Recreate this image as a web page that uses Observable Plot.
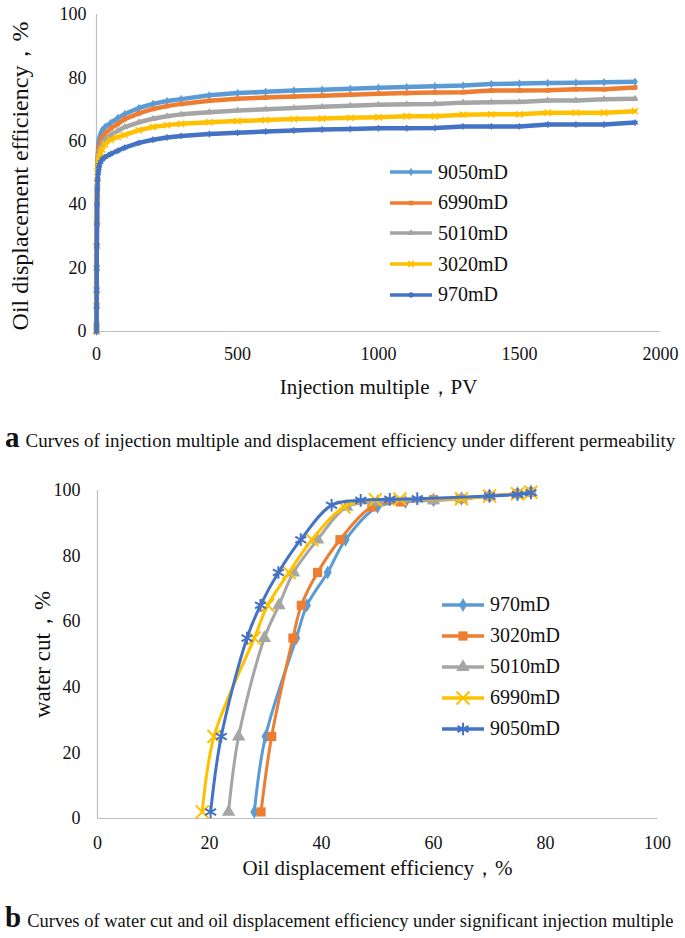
<!DOCTYPE html>
<html><head><meta charset="utf-8">
<script src="https://cdn.jsdelivr.net/npm/d3@7"></script>
<script src="https://cdn.jsdelivr.net/npm/@observablehq/plot@0.6"></script>
<style>
body{margin:0;background:#fff;font-family:"Liberation Serif","Times New Roman",serif;color:#111;}
#page{position:relative;width:685px;height:938px;overflow:hidden;background:#fff;}
.chart{position:absolute;left:0;}
.cap{position:absolute;left:5px;line-height:28px;white-space:nowrap;color:#111;}
.cap b{font-size:29px;margin-right:6px;}
.legend{position:absolute;font-size:20px;color:#111;}
.legend .row{display:flex;align-items:center;}
.legend svg{display:block;margin-right:5px;overflow:visible;}
</style></head>
<body><div id="page"></div>
<script>
// ---------- Chart a: injection multiple vs displacement efficiency ----------
const pvTop = [0,0.2,0.4,0.6,0.8,1,1.5,2,3,4,6,8,10,15,20,30,50,75,100,150,200,250,300,400,500,600,700,800,900,1000,1100,1200,1300,1400,1500,1600,1700,1800,1910];
const effTop9050 = [0,3,9,14,22,30,38,45,51,55,58,60,61,62.5,63.5,64.5,65.8,67.3,68.6,70.5,71.8,72.7,73.3,74.5,75.2,75.6,76,76.3,76.6,76.9,77.1,77.4,77.6,78.1,78.2,78.4,78.5,78.6,78.8];
const effTop6990 = [0,2.5,8.5,13.5,21,29,37,44,50,53.5,56,57.5,58.5,60,61,62.5,64,65.5,67,68.8,70.2,71.1,71.8,72.8,73.4,73.8,74.1,74.4,74.7,75,75.2,75.4,75.5,76,76,76.1,76.4,76.4,77];
const effTop5010 = [0,2.5,8,13,21,28,36,43,48,51.5,54,55.5,56.5,58,59,60.5,62,63.3,64.5,66,67.1,67.9,68.5,69.2,69.7,70.1,70.5,70.9,71.2,71.5,71.7,71.8,72.2,72.3,72.4,72.9,72.9,73.3,73.4];
const effTop3020 = [0,2,8,13,20,27,35,42,47,50.5,52.5,54,55,56.5,57.5,59,60.5,61.3,62,63.5,64.5,65.1,65.5,66,66.4,66.7,67,67.2,67.4,67.6,67.9,67.9,68.4,68.5,68.5,69,69,69,69.5];
const effTop970  = [0,2,8,13,20,27,34,40,45,48,50,51.5,52.5,53.5,54.3,55,56,57,58,59.5,60.5,61.2,61.7,62.3,62.7,63.1,63.4,63.7,63.9,64.1,64.1,64.2,64.7,64.7,64.7,65.3,65.3,65.3,65.9];
const xTicksTop = [0,500,1000,1500,2000];
const yTicksTop = [0,20,40,60,80,100];
const xTitleTop = "Injection multiple，PV";
const yTitleTop = "Oil displacement efficiency，%";
const captionA = "Curves of injection multiple and displacement efficiency under different permeability";

// ---------- Chart b: water cut vs oil displacement efficiency ----------
const effBot970  = [28,30,35.5,37.4,41.1,44.3,50,55,60,65,70,75,77.4];
const wcBot970   = [2,25,55,65,75,85,95,96.5,97,97.5,98.3,99,99.5];
const effBot3020 = [29.2,31.1,34.9,36.4,39.3,43.3,49,54.1,60,64.8,70,75,77.4];
const wcBot3020  = [2,25,55,65,75,85,95,96.5,97.2,97.5,98.3,99,99.5];
const effBot5010 = [23.4,25.2,29.8,32.4,35,39.3,44.5,50,60,65,70,75,77.4];
const wcBot5010  = [2,25,55,65,75,85,95,96.5,97,97.5,98.3,99,99.5];
const effBot6990 = [18.7,20.8,28,30.4,34.2,38.3,44,49.6,54,65,70,75,77.4];
const wcBot6990  = [2,25,55,65,75,85,95,97.2,97.4,97.5,98.3,99,99.5];
const effBot9050 = [20.2,22.1,26.7,29.1,32.3,36.3,41.8,47,52.2,57.1,70,75,77.4];
const wcBot9050  = [2,25,55,65,75,85,95.5,97,97.3,97.5,98.3,98.8,99.3];
const xTicksBot = [0,20,40,60,80,100];
const yTicksBot = [0,20,40,60,80,100];
const xTitleBot = "Oil displacement efficiency，%";
const yTitleBot = "water cut，%";
const captionB = "Curves of water cut and oil displacement efficiency under significant injection multiple";

const C = {lblue:"#5B9BD5", orange:"#ED7D31", gray:"#A5A5A5", gold:"#FFC000", dblue:"#4472C4"};

const seriesTop = [
  {name:"9050mD", color:C.lblue, symbol:"diamond", filled:true, values:effTop9050},
  {name:"6990mD", color:C.orange, symbol:"square", filled:true, values:effTop6990},
  {name:"5010mD", color:C.gray, symbol:"triangle", filled:true, values:effTop5010},
  {name:"3020mD", color:C.gold, symbol:"times", filled:false, values:effTop3020},
  {name:"970mD", color:C.dblue, symbol:"asterisk", filled:false, values:effTop970}
];
const seriesBot = [
  {name:"970mD", color:C.lblue, symbol:"diamond", filled:true, r:4.2, x:effBot970, y:wcBot970},
  {name:"3020mD", color:C.orange, symbol:"square", filled:true, r:5.2, x:effBot3020, y:wcBot3020},
  {name:"5010mD", color:C.gray, symbol:"triangle", filled:true, r:5, x:effBot5010, y:wcBot5010},
  {name:"6990mD", color:C.gold, symbol:"times", filled:false, r:6, x:effBot6990, y:wcBot6990},
  {name:"9050mD", color:C.dblue, symbol:"asterisk", filled:false, r:6, x:effBot9050, y:wcBot9050}
];

const page = document.getElementById("page");
const fontFam = "'Liberation Serif', 'Times New Roman', serif";
const axisCol = "#bfbfbf";

// ---- top plot
const topMarks = [
  Plot.ruleX([0], {stroke: axisCol, strokeWidth: 1.2}),
  Plot.ruleY([0], {stroke: axisCol, strokeWidth: 1.2})
];
seriesTop.forEach(s => {
  const data = s.values.map((v, i) => ({pv: pvTop[i], eff: v}));
  topMarks.push(Plot.line(data, {x: "pv", y: "eff", stroke: s.color, strokeWidth: 4.5}));
  topMarks.push(Plot.dot(data, s.filled
    ? {x: "pv", y: "eff", symbol: s.symbol, fill: s.color, r: 2.6}
    : {x: "pv", y: "eff", symbol: s.symbol, stroke: s.color, strokeWidth: 1.4, r: 3}));
});
topMarks.push(Plot.text([xTitleTop], {text: d => d, frameAnchor: "bottom", dy: 62, fontSize: 21, fill: "#111", fontFamily: fontFam}));
topMarks.push(Plot.text([yTitleTop], {text: d => d, frameAnchor: "left", textAnchor: "middle", dx: -76, dy: 3, rotate: -90, fontSize: 24, fill: "#111", fontFamily: fontFam}));

const topPlot = Plot.plot({
  width: 685, height: 420,
  marginLeft: 96, marginRight: 25, marginTop: 14, marginBottom: 89,
  style: {fontFamily: fontFam, fontSize: "18px", color: "#111", background: "transparent", overflow: "visible"},
  x: {domain: [0, 2000], ticks: xTicksTop, tickSize: 0, tickPadding: 16, label: null, tickFormat: d => String(d)},
  y: {domain: [0, 100], ticks: yTicksTop, tickSize: 0, tickPadding: 10, label: null, tickFormat: d => String(d)},
  marks: topMarks
});
topPlot.classList.add("chart");
topPlot.style.top = "0px";
page.appendChild(topPlot);

// ---- bottom plot
const botMarks = [
  Plot.ruleX([0], {stroke: axisCol, strokeWidth: 1.2}),
  Plot.ruleY([0], {stroke: axisCol, strokeWidth: 1.2})
];
seriesBot.forEach(s => {
  const data = s.x.map((v, i) => ({eff: v, wc: s.y[i]}));
  botMarks.push(Plot.line(data, {x: "eff", y: "wc", stroke: s.color, strokeWidth: 3, curve: "catmull-rom"}));
  botMarks.push(Plot.dot(data, s.filled
    ? {x: "eff", y: "wc", symbol: s.symbol, fill: s.color, r: s.r}
    : {x: "eff", y: "wc", symbol: s.symbol, stroke: s.color, strokeWidth: 2, r: s.r}));
});
botMarks.push(Plot.text([xTitleBot], {text: d => d, frameAnchor: "bottom", dy: 56, fontSize: 21, fill: "#111", fontFamily: fontFam}));
botMarks.push(Plot.text([yTitleBot], {text: d => d, frameAnchor: "left", textAnchor: "middle", dx: -55, rotate: -90, fontSize: 23, fill: "#111", fontFamily: fontFam}));

const botPlot = Plot.plot({
  width: 685, height: 440,
  marginLeft: 97, marginRight: 28, marginTop: 30, marginBottom: 82,
  style: {fontFamily: fontFam, fontSize: "18px", color: "#111", background: "transparent", overflow: "visible"},
  x: {domain: [0, 100], ticks: xTicksBot, tickSize: 0, tickPadding: 18, label: null, tickFormat: d => String(d)},
  y: {domain: [0, 100], ticks: yTicksBot, tickSize: 0, tickPadding: 17, label: null, tickFormat: d => String(d)},
  marks: botMarks
});
botPlot.classList.add("chart");
botPlot.style.top = "460px";
page.appendChild(botPlot);

// ---- legends
const symMap = {diamond: d3.symbolDiamond, square: d3.symbolSquare, triangle: d3.symbolTriangle, times: d3.symbolTimes, asterisk: d3.symbolAsterisk};
function legend(series, left, top, rowH, markR) {
  const div = document.createElement("div");
  div.className = "legend";
  div.style.left = left + "px";
  div.style.top = top + "px";
  series.forEach(s => {
    const row = document.createElement("div");
    row.className = "row";
    row.style.height = rowH + "px";
    const r = markR(s);
    const path = d3.symbol(symMap[s.symbol], Math.PI * r * r)();
    const mk = s.filled
      ? `<path d="${path}" transform="translate(21,6)" fill="${s.color}"/>`
      : `<path d="${path}" transform="translate(21,6)" fill="none" stroke="${s.color}" stroke-width="2"/>`;
    row.innerHTML = `<svg width="43" height="12"><line x1="0" x2="42" y1="6" y2="6" stroke="${s.color}" stroke-width="3.5"/>${mk}</svg><span>${s.name}</span>`;
    div.appendChild(row);
  });
  page.appendChild(div);
}
legend(seriesTop, 390, 157, 30.6, s => 2.6);
legend(seriesBot, 442, 589, 31, s => s.r);

// ---- captions
function caption(letter, text, top, size) {
  const d = document.createElement("div");
  d.className = "cap";
  d.style.top = top + "px";
  d.style.fontSize = size + "px";
  d.innerHTML = `<b>${letter}</b>`;
  d.appendChild(document.createTextNode(text));
  page.appendChild(d);
}
caption("a", captionA, 423, 19);
caption("b", captionB, 903, 18.5);
</script>
</body></html>
